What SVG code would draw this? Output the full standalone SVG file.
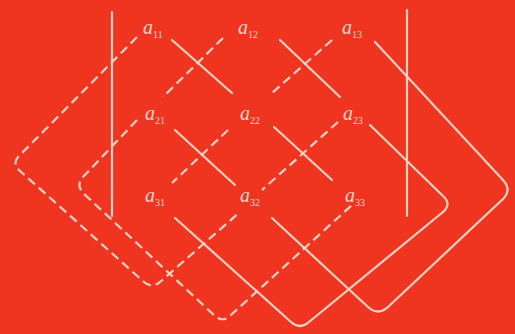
<svg xmlns="http://www.w3.org/2000/svg" width="515" height="334" viewBox="0 0 515 334">
<style>
.bg{fill:#ef3520}
.ln{fill:none;stroke:#f9d2c4;stroke-width:2.2;stroke-linecap:round;stroke-linejoin:round}
.ds{stroke-dasharray:9 5;stroke-linecap:butt}
.lab{font-family:"Liberation Serif","Times New Roman",serif;font-style:italic;font-size:20px;fill:#fbd6ca}
.sub{font-style:normal;font-size:10px}
</style>
<rect class="bg" x="0" y="0" width="515" height="334"/>
<g id="bars">
<line class="ln" x1="112" y1="12" x2="112" y2="216"/>
<line class="ln" x1="407" y1="10" x2="407" y2="216"/>
</g>
<g id="connectors">
<path class="ln" d="M172,40 L232,93"/>
<path class="ln" d="M274,127 L332,180"/>
<path class="ln" d="M280,40 L340,97"/>
<path class="ln" d="M175,130 L235,185"/>
<path class="ln" d="M370,125 L443,196 Q452,204 443,212 L309,322 Q300,330 291,322 L175,218"/>
<path class="ln" d="M375,42 L503,180 Q512,190 503,199 L388,307 Q378,316 368,307 L272,218"/>
<path class="ln ds" d="M332,40 L272,93"/>
<path class="ln ds" d="M228,130 L172,183"/>
<path class="ln ds" d="M223,38 L163,97"/>
<path class="ln ds" d="M338,122 L262,190"/>
<path class="ln ds" d="M137,120 L83,177 Q76,185 83,193 L215,316 Q223,323 231,315 L352,205"/>
<path class="ln ds" d="M137,37 L19,156 Q12,163 19,170 L144,282 Q152,289 160,282 L240,212"/>
</g>
<g id="a11"><text class="lab" x="143" y="34">a<tspan class="sub" dy="4">11</tspan></text></g>
<g id="a12"><text class="lab" x="238" y="34">a<tspan class="sub" dy="4">12</tspan></text></g>
<g id="a13"><text class="lab" x="342" y="34">a<tspan class="sub" dy="4">13</tspan></text></g>
<g id="a21"><text class="lab" x="145" y="120">a<tspan class="sub" dy="4">21</tspan></text></g>
<g id="a22"><text class="lab" x="240" y="120">a<tspan class="sub" dy="4">22</tspan></text></g>
<g id="a23"><text class="lab" x="343" y="120">a<tspan class="sub" dy="4">23</tspan></text></g>
<g id="a31"><text class="lab" x="145" y="202">a<tspan class="sub" dy="4">31</tspan></text></g>
<g id="a32"><text class="lab" x="240" y="202">a<tspan class="sub" dy="4">32</tspan></text></g>
<g id="a33"><text class="lab" x="345" y="202">a<tspan class="sub" dy="4">33</tspan></text></g>
</svg>
